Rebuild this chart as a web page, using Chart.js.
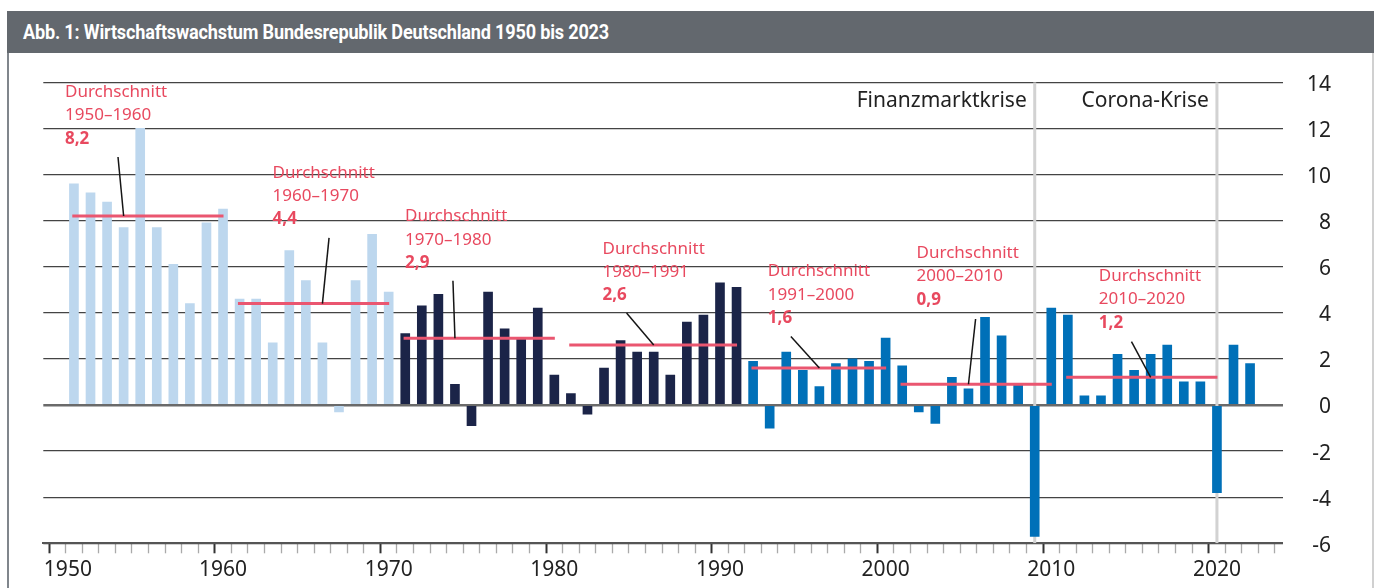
<!DOCTYPE html>
<html><head><meta charset="utf-8">
<script src="https://cdn.jsdelivr.net/npm/chart.js@4.4.1/dist/chart.umd.min.js"></script>
<style>
html,body{margin:0;padding:0;background:#fff;}
#wrap{position:relative;width:1381px;height:588px;overflow:hidden;background:#fff;}
#c{position:absolute;left:0;top:0;}
#titlebar{position:absolute;left:7px;top:11px;width:1367px;height:42px;background:#63686e;}
#title{position:absolute;left:16px;top:50%;transform:translateY(-50%);transform-origin:left center;white-space:nowrap;color:#fff;font:bold 20px "Roboto","Liberation Sans",sans-serif;letter-spacing:-0.2px;}
#lb{position:absolute;left:7px;top:53px;width:2px;height:535px;background:#80868c;}
#rb{position:absolute;left:1372px;top:53px;width:2px;height:535px;background:#d0d0d0;}
</style></head><body>
<div id="wrap">
<canvas id="c" width="1381" height="588"></canvas>
<div id="titlebar"><span id="title">Abb. 1: Wirtschaftswachstum Bundesrepublik Deutschland 1950 bis 2023</span></div>
<div id="lb"></div><div id="rb"></div>
</div>
<script>
// ---- data ----
const startYear1 = 1951;
const growth1951to1970 = [9.6, 9.2, 8.8, 7.7, 12.0, 7.7, 6.1, 4.4, 7.9, 8.5, 4.6, 4.6, 2.7, 6.7, 5.4, 2.7, -0.3, 5.4, 7.4, 4.9];
const startYear2 = 1971;
const growth1971to1991 = [3.1, 4.3, 4.8, 0.9, -0.9, 4.9, 3.3, 2.9, 4.2, 1.3, 0.5, -0.4, 1.6, 2.8, 2.3, 2.3, 1.3, 3.6, 3.9, 5.3, 5.1];
const startYear3 = 1992;
const growth1992to2022 = [1.9, -1.0, 2.3, 1.5, 0.8, 1.8, 2.0, 1.9, 2.9, 1.7, -0.3, -0.8, 1.2, 0.7, 3.8, 3.0, 0.9, -5.7, 4.2, 3.9, 0.4, 0.4, 2.2, 1.5, 2.2, 2.6, 1.0, 1.0, -3.8, 2.6, 1.8];

const avgPeriods = ['1950–1960', '1960–1970', '1970–1980', '1980–1991', '1991–2000', '2000–2010', '2010–2020'];
const avgValues = [8.2, 4.4, 2.9, 2.6, 1.6, 0.9, 1.2];
const avgFromYears = [1951, 1961, 1971, 1981, 1992, 2001, 2011];
const avgToYears = [1960, 1970, 1980, 1991, 2000, 2010, 2020];

const crisisYears = [2009, 2020];
const crisisLabels = ['Finanzmarktkrise', 'Corona-Krise'];

const xLabelYears = [1950, 1960, 1970, 1980, 1990, 2000, 2010, 2020];
const yTickValues = [-6, -4, -2, 0, 2, 4, 6, 8, 10, 12, 14];

// ---- annotation placement (data coordinates: [year, value]) ----
const labelAnchors = [[1950.46, 13.57], [1962.99, 10.07], [1970.99, 8.18], [1982.91, 6.78], [1992.89, 5.79], [2001.87, 6.59], [2012.87, 5.59]];
const calloutStarts = [[1953.66, 10.76], [1966.40, 7.25], [1973.88, 5.39], [1984.36, 3.99], [1994.28, 2.97], [2005.43, 3.73], [2014.84, 2.75]];
const calloutEndYears = [1954, 1966, 1974, 1986, 1996, 2005, 2016];
const crisisLabelValue = 13.2;

// ---- build ----
const series = (start, vals) => vals.map((v, i) => ({x: start + i, y: v}));
const fmt = v => String(v).replace('.', ',');

const datasets = [];
const barBase = {type: 'bar', barThickness: 9, grouped: false, order: 5, borderWidth: 0};
datasets.push(Object.assign({}, barBase, {data: series(startYear1, growth1951to1970), backgroundColor: '#bdd7ee'}));
datasets.push(Object.assign({}, barBase, {data: series(startYear2, growth1971to1991), backgroundColor: '#1b2448'}));
datasets.push(Object.assign({}, barBase, {data: series(startYear3, growth1992to2022), backgroundColor: '#0070b8'}));

crisisYears.forEach(yr => datasets.push({
  type: 'line', data: [{x: yr, y: yTickValues[0]}, {x: yr, y: yTickValues[yTickValues.length - 1]}],
  borderColor: '#d2d2d2', borderWidth: 3, pointRadius: 0, order: 10
}));
avgValues.forEach((v, i) => datasets.push({
  type: 'line', data: [{x: avgFromYears[i] - 0.1, y: v}, {x: avgToYears[i] + 0.03, y: v}],
  borderColor: '#ea5670', borderWidth: 3, pointRadius: 0, order: 2, borderCapStyle: 'butt'
}));
avgValues.forEach((v, i) => datasets.push({
  type: 'line', data: [{x: calloutStarts[i][0], y: calloutStarts[i][1]}, {x: calloutEndYears[i], y: v}],
  borderColor: '#151515', borderWidth: 1.5, pointRadius: 0, order: 1
}));

const annot = {
  id: 'annot',
  afterDatasetsDraw(chart) {
    const {ctx, scales: {x, y}} = chart;
    ctx.save();
    ctx.textAlign = 'left';
    ctx.textBaseline = 'middle';
    ctx.fillStyle = '#e8495f';
    avgPeriods.forEach((p, i) => {
      const px = x.getPixelForValue(labelAnchors[i][0]);
      const py = y.getPixelForValue(labelAnchors[i][1]);
      ctx.font = '17px "Noto Sans"';
      ctx.fillText('Durchschnitt', px, py);
      ctx.fillText(p, px, py + 23.3);
      ctx.font = 'bold 17px "Noto Sans"';
      ctx.fillText(fmt(avgValues[i]), px, py + 46.6);
    });
    ctx.fillStyle = '#222';
    ctx.textAlign = 'right';
    ctx.font = '21px "Noto Sans"';
    crisisYears.forEach((yr, i) => {
      ctx.fillText(crisisLabels[i], x.getPixelForValue(yr) - 8, y.getPixelForValue(crisisLabelValue));
    });
    ctx.restore();
  }
};

new Chart(document.getElementById('c'), {
  type: 'bar',
  data: {datasets},
  plugins: [annot],
  options: {
    responsive: false,
    animation: false,
    devicePixelRatio: 1,
    layout: {padding: {left: 43.3, top: 82.3, right: 50, bottom: 0}},
    plugins: {legend: {display: false}, tooltip: {enabled: false}},
    scales: {
      x: {
        type: 'linear', min: 1949.15, max: 2023.97, offset: false,
        afterFit: s => { s.height = 44.7; },
        border: {display: true, color: '#555', width: 2},
        grid: {
          drawOnChartArea: false, drawTicks: true, tickLength: 10,
          tickColor: c => (c.tick && xLabelYears.includes(c.tick.value)) ? '#333' : '#aaaaaa',
          tickWidth: c => (c.tick && xLabelYears.includes(c.tick.value)) ? 2 : 1.3
        },
        ticks: {
          stepSize: 1, includeBounds: false, autoSkip: false, maxRotation: 0, padding: 4,
          color: '#222', font: {family: '"Noto Sans"', size: 21},
          callback: v => xLabelYears.includes(v) ? (v === xLabelYears[0] ? '\u2002\u2002' + v : String(v)) : ''
        }
      },
      y: {
        position: 'right', min: yTickValues[0], max: yTickValues[yTickValues.length - 1],
        afterFit: s => { s.width = 48.3; },
        afterBuildTicks: s => { s.ticks = yTickValues.map(v => ({value: v})); },
        border: {display: false},
        grid: {
          drawTicks: false,
          color: c => (c.tick && c.tick.value === 0) ? '#6a6a6a' : '#444',
          lineWidth: c => (c.tick && c.tick.value === 0) ? 2.5 : 1.3
        },
        ticks: {
          crossAlign: 'far', padding: 24, labelOffset: 2.5, color: '#222', font: {family: '"Noto Sans"', size: 21},
          callback: v => String(v)
        }
      }
    }
  }
});

// title width fit
const t = document.getElementById('title');
const w = t.getBoundingClientRect().width;
t.style.transform = 'translateY(-50%) scaleX(' + (586 / w) + ')';
</script>
</body></html>
